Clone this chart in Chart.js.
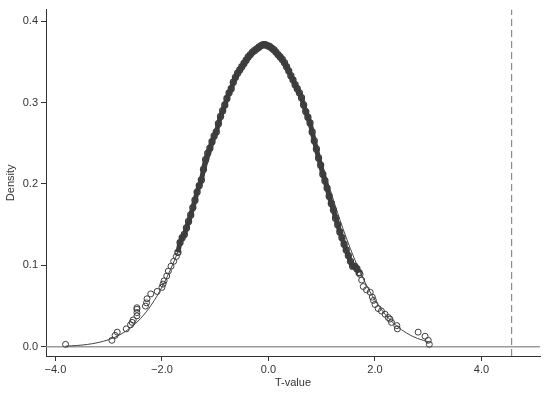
<!DOCTYPE html>
<html>
<head>
<meta charset="utf-8">
<script src="https://cdn.jsdelivr.net/npm/chart.js@4/dist/chart.umd.min.js"></script>
<style>
  html, body { margin: 0; padding: 0; background: #ffffff; }
  canvas { display: block; }
</style>
</head>
<body>
<canvas id="c" width="550" height="393"></canvas>
<script>
// Simulated T-values (dense core) and their kernel density
const coreT = [-1.70,-1.66,-1.62,-1.58,-1.54,-1.50,-1.46,-1.42,-1.38,-1.34,-1.30,-1.26,-1.22,-1.18,-1.14,-1.10,-1.06,-1.02,-0.98,-0.94,-0.90,-0.86,-0.82,-0.78,-0.74,-0.70,-0.66,-0.62,-0.58,-0.54,-0.50,-0.46,-0.42,-0.38,-0.34,-0.30,-0.26,-0.22,-0.18,-0.14,-0.10,-0.06,-0.02,0.02,0.06,0.10,0.14,0.18,0.22,0.26,0.30,0.34,0.38,0.42,0.46,0.50,0.54,0.58,0.62,0.66,0.70,0.74,0.78,0.82,0.86,0.90,0.94,0.98,1.02,1.06,1.10,1.14,1.18,1.22,1.26,1.30,1.34,1.38,1.42,1.46,1.50,1.54,1.58,1.62,1.66,1.70];
const coreDensity = [0.116,0.128,0.134,0.138,0.146,0.154,0.162,0.171,0.180,0.190,0.198,0.205,0.218,0.230,0.238,0.244,0.252,0.259,0.264,0.274,0.283,0.290,0.297,0.305,0.312,0.317,0.325,0.331,0.336,0.340,0.344,0.348,0.352,0.356,0.359,0.362,0.364,0.366,0.368,0.370,0.371,0.371,0.370,0.369,0.367,0.365,0.362,0.359,0.356,0.353,0.349,0.344,0.339,0.333,0.328,0.322,0.317,0.312,0.306,0.297,0.289,0.282,0.275,0.264,0.253,0.243,0.232,0.223,0.212,0.204,0.195,0.185,0.176,0.168,0.158,0.150,0.141,0.134,0.126,0.119,0.112,0.105,0.099,0.099,0.096,0.091];

// Sparse T-values in the tails and their kernel density
const tailT = [-3.81,-2.94,-2.88,-2.84,-2.67,-2.59,-2.56,-2.54,-2.47,-2.47,-2.47,-2.47,-2.31,-2.29,-2.28,-2.21,-2.09,-2.00,-1.98,-1.96,-1.91,-1.88,-1.83,-1.78,-1.73,
               1.72,1.75,1.78,1.84,1.91,1.95,1.97,2.00,2.06,2.12,2.19,2.25,2.28,2.31,2.41,2.42,2.81,2.94,3.00,3.02];
const tailDensity = [0.003,0.008,0.014,0.018,0.022,0.027,0.030,0.033,0.038,0.042,0.046,0.048,0.050,0.054,0.059,0.065,0.068,0.073,0.077,0.081,0.087,0.093,0.099,0.105,0.111,
                     0.089,0.082,0.074,0.070,0.067,0.061,0.057,0.052,0.047,0.044,0.040,0.036,0.034,0.030,0.026,0.022,0.018,0.013,0.008,0.003];

// Normal density reference curve
const normalT = [-3.81,-3.6,-3.4,-3.2,-3.0,-2.8,-2.6,-2.4,-2.2,-2.0,-1.8,-1.6,-1.4,-1.2,-1.0,-0.8,-0.6,-0.4,-0.2,0.0,0.2,0.4,0.6,0.8,1.0,1.2,1.4,1.6,1.8,2.0,2.2,2.4,2.6,2.8,3.02];
const normalDensity = [0.0008,0.0016,0.0029,0.0052,0.0088,0.0144,0.0228,0.0348,0.0514,0.0733,0.1009,0.1341,0.1722,0.2135,0.2556,0.2954,0.3298,0.3555,0.3700,0.3720,0.3611,0.3385,0.3065,0.2679,0.2261,0.1843,0.1450,0.1103,0.0809,0.0573,0.0393,0.0260,0.0166,0.0102,0.0058];

// Actual (benchmark) T-value
const actualT = 4.565;

const xTicks = [-4, -2, 0, 2, 4];
const yTicks = [0, 0.1, 0.2, 0.3, 0.4];

const X_MIN = -4.177, X_MAX = 5.098;
const Y_MIN = -0.0113, Y_MAX = 0.4142;

const toXY = (xs, ys) => xs.map((x, i) => ({ x: x, y: ys[i] }));
const AX = '#333333';
const MARK = '#3d3d3d';
const FONT = { family: 'Liberation Sans, Arial, sans-serif', size: 11 };

new Chart(document.getElementById('c'), {
  type: 'scatter',
  data: {
    datasets: [
      {
        label: 'core',
        data: toXY(coreT, coreDensity),
        showLine: true,
        borderColor: MARK,
        borderWidth: 5,
        tension: 0.3,
        pointRadius: 3,
        pointBorderWidth: 1.3,
        pointBorderColor: MARK,
        pointBackgroundColor: 'rgba(255,255,255,0)',
        order: 1
      },
      {
        label: 'tail',
        data: toXY(tailT, tailDensity),
        showLine: false,
        pointRadius: 3,
        pointBorderWidth: 1,
        pointBorderColor: MARK,
        pointBackgroundColor: 'rgba(255,255,255,0)',
        order: 2
      },
      {
        label: 'normal',
        data: toXY(normalT, normalDensity),
        showLine: true,
        borderColor: '#444444',
        borderWidth: 1,
        tension: 0.35,
        pointRadius: 0,
        order: 3
      },
      {
        label: 'actual',
        data: [{ x: actualT, y: Y_MIN }, { x: actualT, y: Y_MAX }],
        showLine: true,
        borderColor: '#8c8c8c',
        borderWidth: 1.2,
        borderDash: [7, 4],
        pointRadius: 0,
        order: 4
      },
      {
        label: 'zero',
        data: [{ x: X_MIN, y: 0 }, { x: X_MAX, y: 0 }],
        showLine: true,
        borderColor: '#9a9a9a',
        borderWidth: 1.5,
        pointRadius: 0,
        order: 5
      }
    ]
  },
  options: {
    responsive: false,
    animation: false,
    layout: { padding: { left: 0, right: 10, top: 5, bottom: 0 } },
    plugins: { legend: { display: false }, tooltip: { enabled: false } },
    scales: {
      x: {
        type: 'linear',
        min: X_MIN,
        max: X_MAX,
        afterBuildTicks: (s) => { s.ticks = xTicks.map(v => ({ value: v })); },
        afterFit: (s) => { s.height = 37; },
        border: { display: true, color: AX, width: 1 },
        grid: { display: true, drawOnChartArea: false, drawTicks: true, tickLength: 5, color: AX },
        ticks: {
          color: AX, font: FONT, padding: 2, maxRotation: 0,
          callback: (v) => (v < 0 ? '\u2212' + Math.abs(v).toFixed(1) : v.toFixed(1))
        },
        title: { display: true, text: 'T-value', color: AX, font: FONT, padding: { top: 0, bottom: 3 } }
      },
      y: {
        type: 'linear',
        min: Y_MIN,
        max: Y_MAX,
        afterBuildTicks: (s) => { s.ticks = yTicks.map(v => ({ value: v })); },
        afterFit: (s) => { s.width = 46; },
        border: { display: true, color: AX, width: 1 },
        grid: { display: true, drawOnChartArea: false, drawTicks: true, tickLength: 5, color: AX },
        ticks: {
          color: AX, font: FONT, padding: 3,
          callback: (v) => v.toFixed(1)
        },
        title: { display: true, text: 'Density', color: AX, font: FONT, padding: { top: 4, bottom: 4 } }
      }
    }
  }
});
</script>
</body>
</html>
